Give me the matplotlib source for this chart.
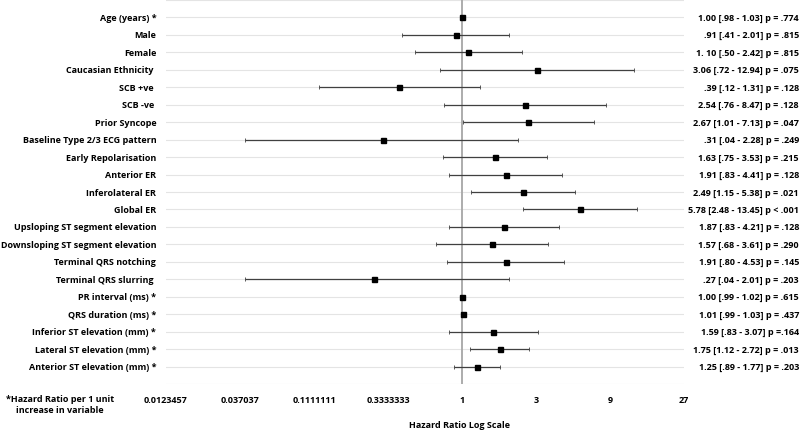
import numpy as np
import matplotlib
matplotlib.use('Agg')
import matplotlib.pyplot as plt
import matplotlib.transforms as mtransforms

plt.rcParams['font.family'] = ['Open Sans', 'DejaVu Sans']

'''
#   forest plot data (hazard ratio, 95% CI)
'''
labels = ['Age (years) *', 'Male', 'Female', 'Caucasian Ethnicity ', 'SCB +ve ',
          'SCB -ve ', 'Prior Syncope', 'Baseline Type 2/3 ECG pattern',
          'Early Repolarisation', 'Anterior ER', 'Inferolateral ER', 'Global ER',
          'Upsloping ST segment elevation', 'Downsloping ST segment elevation',
          'Terminal QRS notching', 'Terminal QRS slurring ', 'PR interval (ms) *',
          'QRS duration (ms) *', 'Inferior ST elevation (mm) *',
          'Lateral ST elevation (mm) *', 'Anterior ST elevation (mm) *']

hr = [1.00, .91, 1.10, 3.06, .39, 2.54, 2.67, .31, 1.63, 1.91, 2.49, 5.78,
      1.87, 1.57, 1.91, .27, 1.00, 1.01, 1.59, 1.75, 1.25]
lo = [.98, .41, .50, .72, .12, .76, 1.01, .04, .75, .83, 1.15, 2.48,
      .83, .68, .80, .04, .99, .99, .83, 1.12, .89]
hi = [1.03, 2.01, 2.42, 12.94, 1.31, 8.47, 7.13, 2.28, 3.53, 4.41, 5.38, 13.45,
      4.21, 3.61, 4.53, 2.01, 1.02, 1.03, 3.07, 2.72, 1.77]

res_text = ['1.00 [.98 - 1.03] p = .774', '.91 [.41 - 2.01] p = .815',
            '1. 10 [.50 - 2.42] p = .815', '3.06 [.72 - 12.94] p = .075',
            '.39 [.12 - 1.31] p = .128', '2.54 [.76 - 8.47] p = .128',
            '2.67 [1.01 - 7.13] p = .047', '.31 [.04 - 2.28] p = .249',
            '1.63 [.75 - 3.53] p = .215', '1.91 [.83 - 4.41] p = .128',
            '2.49 [1.15 - 5.38] p = .021', '5.78 [2.48 - 13.45] p < .001',
            '1.87 [.83 - 4.21] p = .128', '1.57 [.68 - 3.61] p = .290',
            '1.91 [.80 - 4.53] p = .145', '.27 [.04 - 2.01] p = .203',
            '1.00 [.99 - 1.02] p = .615', '1.01 [.99 - 1.03] p = .437',
            '1.59 [.83 - 3.07] p =.164', '1.75 [1.12 - 2.72] p = .013',
            '1.25 [.89 - 1.77] p = .203']

xticks = [1/81, 1/27, 1/9, 1/3, 1, 3, 9, 27]
xticklabels = ['0.0123457', '0.037037', '0.1111111', '0.3333333', '1', '3', '9', '27']

FS = 6.45


def show_forest():

    fig = plt.figure(figsize=(8, 4.31), dpi=100)
    ax = fig.add_axes([166/800, 1-385.2/431, 518/800, 384.4/431])

    N = len(labels)
    y = np.arange(1, N+1)
    hr_a = np.array(hr)
    err = np.vstack([hr_a - np.array(lo), np.array(hi) - hr_a])

    ax.set_xscale('log')
    ax.set_xlim(xticks[0], xticks[-1])
    ax.set_ylim(N+1, 0)

    # horizontal gridlines
    ax.set_yticks(np.arange(0, N+2))
    ax.set_yticklabels([])
    ax.grid(True, axis='y', color='#e4e4e4', linewidth=0.8)
    ax.tick_params(axis='y', length=0)

    ax.axvline(1, color='#a6a6a6', linewidth=1.3, zorder=2)

    ax.errorbar(hr, y, xerr=err, fmt='s', color='black', markersize=3.6,
                ecolor='#404040', elinewidth=0.9, capsize=1.2, capthick=0.6,
                zorder=3)

    ax.set_xticks(xticks)
    ax.set_xticklabels(xticklabels, fontsize=FS, fontweight='bold')
    ax.xaxis.set_minor_locator(matplotlib.ticker.NullLocator())
    ax.tick_params(axis='x', length=0, pad=8)

    for s in ax.spines.values():
        s.set_visible(False)

    trans = mtransforms.blended_transform_factory(ax.transAxes, ax.transData)
    for i in range(N):
        ax.text(-0.019, y[i], labels[i], transform=trans, ha='right', va='center',
                fontsize=FS, fontweight='bold')
        ax.text(1.222, y[i], res_text[i], transform=trans, ha='right', va='center',
                fontsize=FS, fontweight='bold')

    fig.text(460/800, 5/431, 'Hazard Ratio Log Scale', ha='center', va='center',
             fontsize=FS, fontweight='bold')
    fig.text(60/800, 26/431, '*Hazard Ratio per 1 unit\nincrease in variable',
             ha='center', va='center', multialignment='center',
             fontsize=FS, fontweight='bold', linespacing=1.4)

    plt.savefig('out.png', dpi=100)

    return 0


if __name__ == '__main__':

    show_forest()

# END OF FILE
